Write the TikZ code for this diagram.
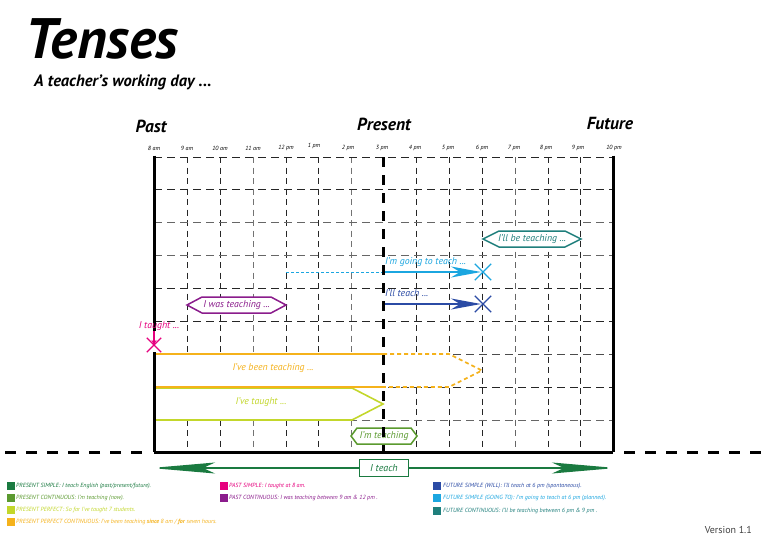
\documentclass[tikz,border=0pt]{standalone}
\usepackage{fontspec}
\setmainfont{PT Sans}
\usetikzlibrary{arrows.meta,shapes.misc}
\definecolor{cteal}{HTML}{1F7F7C}
\definecolor{ccyan}{HTML}{1BA6E0}
\definecolor{cblue}{HTML}{2B4BA5}
\definecolor{cpurple}{HTML}{8B1C8C}
\definecolor{cmag}{HTML}{E6007E}
\definecolor{corange}{HTML}{F5B21B}
\definecolor{cyg}{HTML}{C3D72B}
\definecolor{cgreen}{HTML}{5B9A2F}
\definecolor{cdkgreen}{HTML}{1A7A40}
\begin{document}
\begin{tikzpicture}[x=1pt,y=-1pt,
  lbl/.style={font=\itshape\fontsize{9.8}{11}\selectfont, inner sep=0pt},
  tlbl/.style={font=\itshape\fontsize{6}{7}\selectfont, inner sep=0pt},
  ppf/.style={font=\bfseries\itshape\fontsize{17.5}{19}\selectfont, inner sep=0pt, anchor=base},
  gridv/.style={dash pattern=on 6pt off 4.5pt, line width=0.8pt},
  gridh/.style={dash pattern=on 8pt off 5pt, line width=0.8pt},
  hexs/.style={line width=1.5pt, fill=white},
  leg/.style={font=\itshape\fontsize{6}{6.5}\selectfont, anchor=west, inner sep=0pt},
  sq/.style={minimum size=8pt, inner sep=0pt},
  cross/.style={cross out, line width=1.3pt, inner sep=0pt},
]
\useasboundingbox (0,0) rectangle (768,543);
\fill[white] (0,0) rectangle (768,543);

% titles
\node[anchor=base west, font=\bfseries\itshape\fontsize{57}{60}\selectfont, inner sep=0pt] (title) at (25,59) {Tenses};
\node[anchor=base west, font=\bfseries\itshape\fontsize{16.5}{18}\selectfont, inner sep=0pt] (sub) at (34,86) {A teacher’s working day ...};
\node[ppf] (past) at (151,132) {Past};
\node[ppf] (present) at (384,130) {Present};
\node[ppf] (future) at (610,129) {Future};

% time labels
\foreach \x/\t/\yy in {154/8 am/148,187/9 am/148,220/10 am/148,253/11 am/148,286/12 pm/148,314/1 pm/146,348/2 pm/148,382/3 pm/148,415/4 pm/148,448/5 pm/148,482/6 pm/148,514/7 pm/148,546/8 pm/148,578/9 pm/148,614/10 pm/148}
  \node[tlbl] (t\x) at (\x,\yy) {\t};

% grid
\foreach \x/\c in {187/black!85,220/black!85,253/black!55,286/black!85,318/black!85,351/black!55,416/black!85,449/black!85,482/black!85,515/black!60,548/black!85,580/black!85}
  \draw[gridv, draw=\c] (\x,157) -- (\x,452);
\foreach \y/\c in {157/black!85,189/black!85,222/black!60,255/black!60,288/black!85,321/black!85,354/black!70,387/black!85,420/black!60}
  \draw[gridh, draw=\c] (154,\y) -- (613,\y);

% present perfect continuous (orange)
\fill[white] (154,354) -- (449,354) -- (482,370.5) -- (449,387) -- (154,387) -- cycle;
% present perfect (yellow-green)
\draw[cyg, line width=1.6pt, fill=white] (154,388) -- (352,388) -- (383,404) -- (352,420) -- (154,420) -- cycle;
\draw[corange, line width=1.6pt] (154,354) -- (383,354) (154,387) -- (383,387);
\draw[corange, line width=1.6pt, dash pattern=on 4pt off 3pt] (383,354) -- (449,354) -- (482,370.5) -- (449,387) -- (383,387);
\node[lbl, text=corange] (ppc) at (273,368) {I’ve been teaching ...};
\node[lbl, text=cyg] (pp) at (261,402) {I’ve taught ...};

% hexagons
\draw[hexs, draw=cpurple] (187,305) -- (202,297) -- (271,297) -- (286,305) -- (271,313) -- (202,313) -- cycle;
\node[lbl, text=cpurple] (was) at (236.5,305) {I was teaching ...};
\draw[hexs, draw=cteal] (483,239) -- (499,231) -- (565,231) -- (581,239) -- (565,247) -- (499,247) -- cycle;
\node[lbl, text=cteal] (willbe) at (532,239) {I’ll be teaching ...};
\draw[hexs, draw=cgreen] (351,436) -- (357,428) -- (411,428) -- (417,436) -- (411,444) -- (357,444) -- cycle;
\node[lbl, text=cgreen] (now) at (384,436) {I’m teaching};

% going to
\coordinate (c12) at (286,272);
\coordinate (c3) at (383,272);
\node[cross, draw=ccyan, minimum size=15pt] (xgo) at (483,272) {};
\draw[ccyan, line width=0.8pt, dash pattern=on 3pt off 2pt] (c12) -- (c3);
\draw[ccyan, line width=1.5pt, shorten >=2pt, -{Stealth[length=30pt,width=11pt,inset=9pt]}] (c3) -- (xgo.center);
\node[lbl, text=ccyan, anchor=base west] (going) at (385,264) {I’m going to teach ...};

% will
\coordinate (b3) at (383,304);
\node[cross, draw=cblue, minimum size=15pt] (xwill) at (483,304) {};
\draw[cblue, line width=1.5pt, shorten >=2pt, -{Stealth[length=30pt,width=11pt,inset=9pt]}] (b3) -- (xwill.center);
\node[lbl, text=cblue, anchor=base west] (will) at (385,296) {I’ll teach ...};

% axes
\draw[line width=3pt, dash pattern=on 10pt off 8pt] (383,157) -- (383,452);
\draw[line width=3pt] (154,155.5) -- (154,331);
\draw[line width=3pt] (154,352) -- (154,452);
\draw[line width=3pt] (613,155.5) -- (613,452);
\draw[line width=3pt] (154,452) -- (613,452);
\coordinate (bl) at (4,452);
\coordinate (br) at (768,452);
\draw[line width=3pt, dash pattern=on 11pt off 10pt] (142,452) -- (bl);
\draw[line width=3pt, dash pattern=on 11pt off 10pt] (624,452) -- (br);

% past simple
\node[lbl, text=cmag] (taught) at (159,326) {I taught ...};
\node[cross, draw=cmag, minimum size=13pt] (xt) at (154,345) {};
\coordinate (tarr) at (154,331);
\draw[cmag, line width=1.2pt, -{Stealth[length=5pt,width=5pt]}] (tarr) -- (xt.center);

% I teach
\node[draw=cdkgreen, line width=1.5pt, fill=white, minimum width=49pt, minimum height=17pt, text=cdkgreen, font=\itshape\fontsize{10}{11}\selectfont, inner sep=0pt] (teach) at (384,468) {I teach};
\coordinate (pastend) at (151,468);
\coordinate (futend) at (616,468);
\draw[cdkgreen, line width=1.5pt, -{Stealth[length=64pt,width=11pt,inset=12pt]}] (teach.west) -- (pastend);
\draw[cdkgreen, line width=1.5pt, -{Stealth[length=64pt,width=11pt,inset=12pt]}] (teach.east) -- (futend);

% legend column 1
\node[sq, fill=cdkgreen] (q1) at (11,486) {};
\node[leg, text=cdkgreen] (l1) at (16,486) {PRESENT SIMPLE: I teach English (past/present/future).};
\node[sq, fill=cgreen] (q2) at (11,498) {};
\node[leg, text=cgreen] (l2) at (16,498) {PRESENT CONTINUOUS: I’m teaching (now).};
\node[sq, fill=cyg] (q3) at (11,510) {};
\node[leg, text=cyg] (l3) at (16,510) {PRESENT PERFECT: So far I’ve taught 7 students.};
\node[sq, fill=corange] (q4) at (11,522) {};
\node[leg, text=corange] (l4) at (16,522) {PRESENT PERFECT CONTINUOUS: I’ve been teaching \textbf{since} 8 am / \textbf{for} seven hours.};
% legend column 2
\node[sq, fill=cmag] (q5) at (224,486) {};
\node[leg, text=cmag] (l5) at (229,486) {PAST SIMPLE: I taught at 8 am.};
\node[sq, fill=cpurple] (q6) at (224,498) {};
\node[leg, text=cpurple] (l6) at (229,498) {PAST CONTINUOUS: I was teaching between 9 am \& 12 pm .};
% legend column 3
\node[sq, fill=cblue] (q7) at (437,486) {};
\node[leg, text=cblue] (l7) at (443,486) {FUTURE SIMPLE (WILL): I’ll teach at 6 pm (spontaneous).};
\node[sq, fill=ccyan] (q8) at (437,498) {};
\node[leg, text=ccyan] (l8) at (443,498) {FUTURE SIMPLE (GOING TO): I’m going to teach at 6 pm (planned).};
\node[sq, fill=cteal] (q9) at (437,511) {};
\node[leg, text=cteal] (l9) at (443,511) {FUTURE CONTINUOUS: I’ll be teaching between 6 pm \& 9 pm .};

\node[anchor=base east, font=\fontsize{10}{11}\selectfont, text=black!75, inner sep=0pt] (ver) at (752,533) {Version 1.1};
\end{tikzpicture}
\end{document}
